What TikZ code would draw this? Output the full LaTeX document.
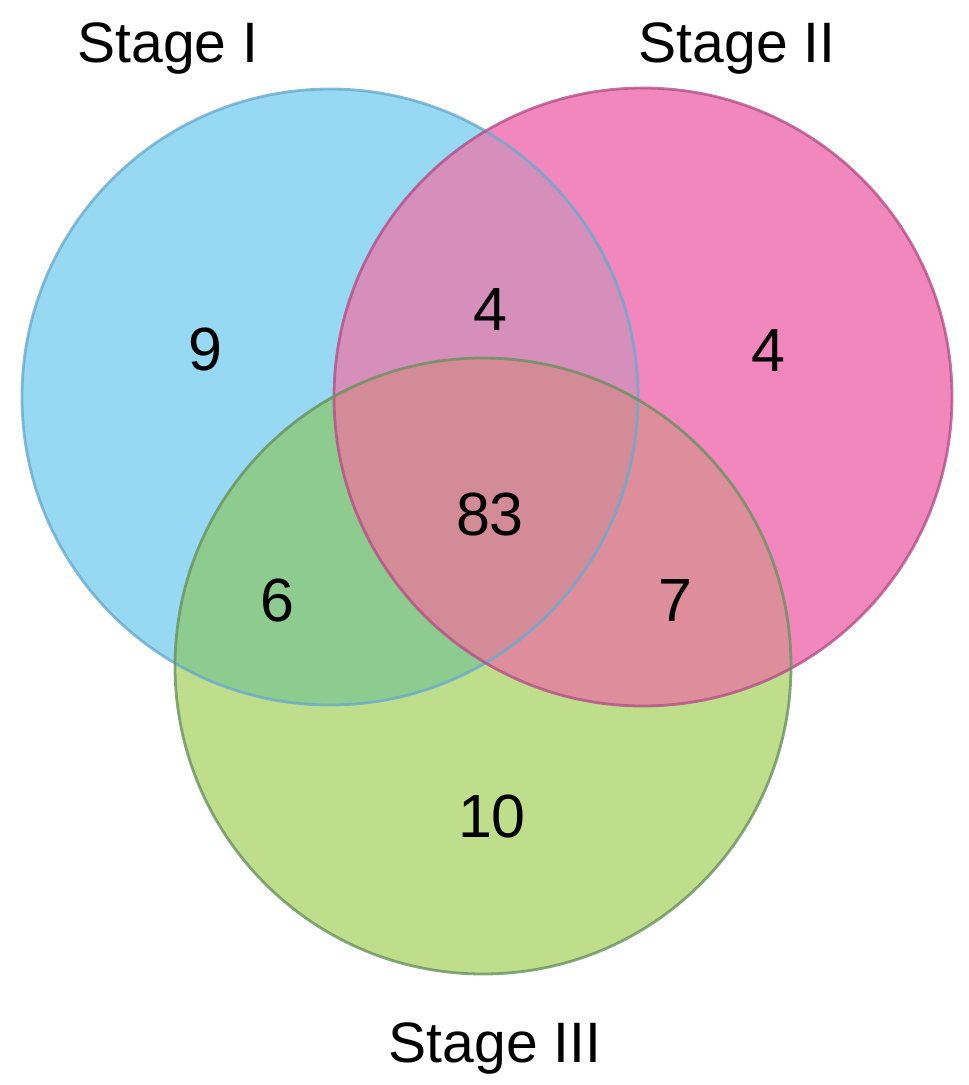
\documentclass[tikz,border=0pt]{standalone}
\usepackage{fontspec}
\setmainfont{Liberation Sans}
\definecolor{cb}{RGB}{151,217,243}
\definecolor{cp}{RGB}{241,135,189}
\definecolor{cg}{RGB}{190,222,140}
\definecolor{cbp}{RGB}{214,142,186}
\definecolor{cbg}{RGB}{142,203,142}
\definecolor{cpg}{RGB}{221,142,154}
\definecolor{call}{RGB}{211,140,151}
\definecolor{ob}{RGB}{105,170,205}
\definecolor{op}{RGB}{180,80,135}
\definecolor{og}{RGB}{105,145,95}
\tikzset{
  lbl/.style={font=\fontsize{57}{68}\selectfont, text=black, anchor=base, inner sep=0pt},
  num/.style={font=\fontsize{61}{72}\selectfont, text=black, anchor=base, inner sep=0pt},
  ring/.style={line width=2.8pt, draw opacity=0.8}
}
\begin{document}
\begin{tikzpicture}[x=1pt,y=-1pt]
\useasboundingbox (0,0) rectangle (969,1085);
\fill[white] (0,0) rectangle (969,1085);
\coordinate (B) at (330,397);
\coordinate (P) at (643,397);
\coordinate (G) at (483,666);
\def\rB{308}\def\rP{309}\def\rG{308}
\fill[cb] (B) circle (\rB);
\fill[cp] (P) circle (\rP);
\fill[cg] (G) circle (\rG);
\begin{scope}
  \clip (B) circle (\rB);
  \fill[cbp] (P) circle (\rP);
  \fill[cbg] (G) circle (\rG);
\end{scope}
\begin{scope}
  \clip (P) circle (\rP);
  \fill[cpg] (G) circle (\rG);
\end{scope}
\begin{scope}
  \clip (B) circle (\rB);
  \clip (P) circle (\rP);
  \fill[call] (G) circle (\rG);
\end{scope}
\draw[ring, ob] (B) circle (\rB);
\draw[ring, op] (P) circle (\rP);
\draw[ring, og] (G) circle (\rG);
\node[lbl] (s1) at (168,62) {Stage I};
\node[lbl] (s2) at (737,62) {Stage II};
\node[lbl] (s3) at (495,1062) {Stage III};
\node[num] (n9) at (205,370) {9};
\node[num] (n4a) at (490,330) {4};
\node[num] (n4b) at (768,371) {4};
\node[num] (n83) at (490,535) {83};
\node[num] (n6) at (277,621) {6};
\node[num] (n7) at (675,621) {7};
\node[num] (n10) at (492,837) {10};
\end{tikzpicture}
\end{document}
